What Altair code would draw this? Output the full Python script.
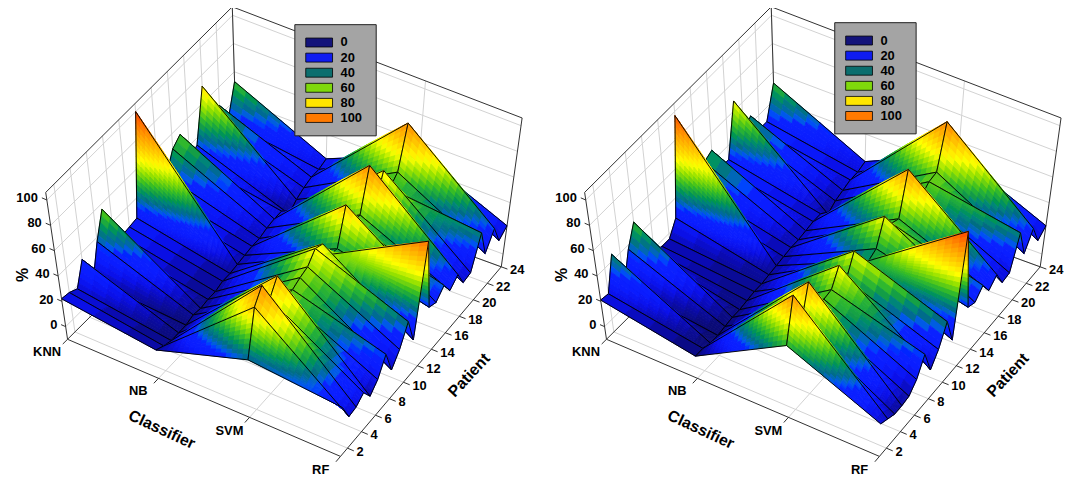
import math
import numpy as np
import pandas as pd
import altair as alt

alt.data_transformers.disable_max_rows()

# ---------------- data (values in %, patients 1..24) ----------------
CLASSIFIERS = ["KNN", "NB", "SVM", "RF"]
PATIENT_TICKS = [2, 4, 6, 8, 10, 12, 14, 16, 18, 20, 22, 24]
Z_TICKS = [0, 20, 40, 60, 80, 100]
LEGEND_LABELS = ["0", "20", "40", "60", "80", "100"]
LEGEND_COLORS = ["#13137a", "#0f1cf0", "#0b6e6e", "#7fd90b", "#ffe600", "#ff7a00"]

# left panel
L_KNN = [22, 21, 18, 35, 13, 37, 56, 24, 24, 25, 26, 100, 30, 30, 35, 49, 54, 30, 35, 72, 40, 47, 30, 53]
L_NB = [13, 10, 8, 8, 8, 10, 9, 10, 10, 12, 12, 13, 14, 15, 15, 17, 18, 18, 10, 15, 18, 20, 20, 22]
L_SVM = [38, 75, 86, 68, 80, 55, 55, 58, 60, 68, 65, 50, 48, 76, 55, 55, 87, 50, 70, 50, 56, 87, 55, 50]
L_RF = [32, 17, 18, 23, 13, 20, 34, 14, 24, 40, 18, 92, 31, 28, 35, 24, 30, 17, 18, 43, 20, 33, 17, 22]

# right panel
R_KNN = [21, 20, 45, 15, 37, 52, 24, 18, 16, 16, 26, 97, 30, 30, 45, 48, 30, 30, 67, 40, 45, 30, 30, 52]
R_NB = [8, 8, 6, 6, 7, 8, 8, 9, 10, 10, 11, 12, 13, 14, 14, 15, 16, 16, 10, 14, 16, 18, 18, 20]
R_SVM = [50, 85, 55, 82, 50, 54, 55, 68, 50, 66, 52, 45, 48, 67, 55, 52, 84, 60, 50, 55, 56, 88, 55, 50]
R_RF = [18, 15, 12, 12, 13, 20, 34, 14, 24, 40, 18, 100, 31, 28, 35, 24, 30, 17, 18, 43, 20, 33, 17, 22]

# ---------------- view (projection of the 3-D box) ----------------
ZMIN, ZMAX = -10, 106
# box corners (page px) for (KNN,p1), (RF,p1), (RF,p24), (KNN,p24)
BOX_FLOOR = [(68, 340), (343, 458), (505, 267), (239, 170)]
BOX_TOP = [(46, 192), (348.5, 322), (526, 117), (234, 5)]
PANEL_DX = [0, 543]
LEGEND_ORIGIN = [(297, 23), (841, 21)]

CMAP_DOMAIN = [0, 8, 14, 20, 26, 33, 40, 46, 52, 58, 66, 76, 88, 100]
CMAP_RANGE = ["#0c0c5e", "#0a0a78", "#0a0aae", "#0a10ea", "#0a1cff", "#0a22ff", "#076c82", "#12984a",
              "#3cc01e", "#90e000", "#ffff00", "#ffc400", "#ff8400", "#ff3a00"]

FONT = "Liberation Sans"
STEP = 4.0  # shading resolution (in %) inside each grid cell


def _bil(vals, u, v):
    a, b, c, d = vals
    return f"((1-{u})*(1-{v})*{a}+{u}*(1-{v})*{b}+{u}*{v}*{c}+(1-{u})*{v}*{d})"


def proj_expr(cf, pf, zf, axis):
    u = f"(datum['{cf}']/3)"
    v = f"((datum['{pf}']-1)/23)"
    t = f"((datum['{zf}']-({ZMIN}))/{ZMAX - ZMIN})"
    i = 0 if axis == "x" else 1
    F = _bil([pt[i] for pt in BOX_FLOOR], u, v)
    T = _bil([pt[i] for pt in BOX_TOP], u, v)
    e = f"{F}+{t}*({T}-{F})"
    if axis == "x":
        e += "+datum['dx']"
    return e


def project(chart, cf, pf, zf, ox, oy):
    return chart.transform_calculate(**{ox: proj_expr(cf, pf, zf, "x"),
                                        oy: proj_expr(cf, pf, zf, "y")})


XS = alt.Scale(domain=[8, 1074], nice=False, zero=False)
YS = alt.Scale(domain=[8, 481], nice=False, zero=False, reverse=True)

# ---------------- surface polygons (painter's order, far to near) ----------------
panels = [(0, [L_KNN, L_NB, L_SVM, L_RF]), (1, [R_KNN, R_NB, R_SVM, R_RF])]
rows = []
gid = 0
for pi, grid in panels:
    dx = PANEL_DX[pi]
    Z = np.array(grid, dtype=float)
    quads = [(c, p) for c in range(3) for p in range(1, 24)]
    quads.sort(key=lambda q: 4.6 * q[0] - q[1])
    for c, p in quads:
        z00, z10, z01, z11 = Z[c, p - 1], Z[c + 1, p - 1], Z[c, p], Z[c + 1, p]

        def zf(a, b):
            return (1 - a) * (1 - b) * z00 + a * (1 - b) * z10 + a * b * z11 + (1 - a) * b * z01

        nc = min(26, max(1, math.ceil(max(abs(z10 - z00), abs(z11 - z01)) / STEP)))
        npp = min(26, max(1, math.ceil(max(abs(z01 - z00), abs(z11 - z10)) / STEP)))
        subs = [(i, j) for i in range(nc) for j in range(npp)]
        subs.sort(key=lambda s: 4.6 * s[0] / nc - s[1] / npp)
        for i, j in subs:
            a0, a1, b0, b1 = i / nc, (i + 1) / nc, j / npp, (j + 1) / npp
            val = round(zf((a0 + a1) / 2, (b0 + b1) / 2), 2)
            for k, (a, b) in enumerate([(a0, b0), (a1, b0), (a1, b1), (a0, b1)]):
                rows.append((gid, k, round(c + a, 4), round(p + b, 4), round(zf(a, b), 3), val, 0, dx))
            gid += 1
        for k, (a, b) in enumerate([(0, 0), (1, 0), (1, 1), (0, 1)]):
            rows.append((gid, k, c + a, p + b, zf(a, b), 0, 1, dx))
        gid += 1

surf_df = pd.DataFrame(rows, columns=["g", "k", "c", "p", "z", "val", "o", "dx"])

surface = project(alt.Chart(surf_df), "c", "p", "z", "sx", "sy").transform_calculate(
    sv="datum.o == 1 ? -100 : datum.val",
    fo="datum.o == 1 ? 0 : 1",
    sw="datum.o == 1 ? 0.95 : 0.9",
).mark_line(interpolate="linear-closed", strokeJoin="round").encode(
    x=alt.X("sx:Q", scale=XS, axis=None),
    y=alt.Y("sy:Q", scale=YS, axis=None),
    detail="g:N",
    order="k:Q",
    fill=alt.Fill("val:Q", scale=alt.Scale(domain=CMAP_DOMAIN, range=CMAP_RANGE, clamp=True), legend=None),
    stroke=alt.Stroke("sv:Q", scale=alt.Scale(domain=[-100, -11] + CMAP_DOMAIN,
                                              range=["#000000", "#000000"] + CMAP_RANGE, clamp=True),
                      legend=None),
    fillOpacity=alt.FillOpacity("fo:Q", scale=None),
    strokeWidth=alt.StrokeWidth("sw:Q", scale=None),
)

# ---------------- box, grid, ticks ----------------
back, front = [], []
for dx in PANEL_DX:
    for p in PATIENT_TICKS:
        back.append((0, p, ZMIN, 0, p, ZMAX, "grid", dx))
        back.append((0, p, ZMIN, 3, p, ZMIN, "grid", dx))
    for z in Z_TICKS:
        back.append((0, 1, z, 0, 24, z, "grid", dx))
        back.append((0, 24, z, 3, 24, z, "grid", dx))
    for c in (1, 2):
        back.append((c, 24, ZMIN, c, 24, ZMAX, "grid", dx))
        back.append((c, 1, ZMIN, c, 24, ZMIN, "grid", dx))
    back += [(0, 1, ZMAX, 0, 24, ZMAX, "edge", dx), (0, 24, ZMAX, 3, 24, ZMAX, "edge", dx),
             (3, 24, ZMIN, 3, 24, ZMAX, "edge", dx), (0, 24, ZMIN, 0, 24, ZMAX, "edge", dx),
             (0, 1, ZMIN, 0, 24, ZMIN, "edge", dx), (0, 24, ZMIN, 3, 24, ZMIN, "edge", dx)]
    front += [(0, 1, ZMIN, 0, 1, ZMAX, "edge", dx), (0, 1, ZMIN, 3, 1, ZMIN, "edge", dx),
              (3, 1, ZMIN, 3, 24, ZMIN, "edge", dx)]
    for c in range(4):
        front.append((c, 1, ZMIN, c, 0.35, ZMIN, "edge", dx))
    for p in PATIENT_TICKS:
        front.append((3, p, ZMIN, 3.07, p, ZMIN, "edge", dx))
    for z in Z_TICKS:
        front.append((0, 1, z, -0.05, 1, z, "edge", dx))

seg_cols = ["c1", "p1", "z1", "c2", "p2", "z2", "kind", "dx"]


def seg_layer(segs):
    ch = alt.Chart(pd.DataFrame(segs, columns=seg_cols))
    ch = project(ch, "c1", "p1", "z1", "sx", "sy")
    ch = project(ch, "c2", "p2", "z2", "sx2", "sy2")
    return ch.mark_rule(strokeWidth=1).encode(
        x=alt.X("sx:Q", scale=XS, axis=None),
        y=alt.Y("sy:Q", scale=YS, axis=None),
        x2="sx2:Q",
        y2="sy2:Q",
        color=alt.Color("kind:N", scale=alt.Scale(domain=["grid", "edge"], range=["#d2d2d2", "#303030"]),
                        legend=None),
    )


back_layer = seg_layer(back)
front_layer = seg_layer(front)

# ---------------- labels ----------------
zl, cl, pl, tl = [], [], [], []
for dx in PANEL_DX:
    for z in Z_TICKS:
        zl.append((-0.09, 1, z, str(z), dx))
    for i, name in enumerate(CLASSIFIERS):
        cl.append((i, -0.7, ZMIN, name, dx))
    for p in PATIENT_TICKS:
        pl.append((3.1, p, ZMIN, str(p), dx))
    tl += [(-0.4, 1, 28, "%", 270, dx), (1.4, -3.6, ZMIN, "Classifier", 25, dx),
           (3.5, 13, ZMIN, "Patient", 313, dx)]

lab_cols = ["c", "p", "z", "text", "dx"]


def text_layer(items, cols, **mk):
    ch = project(alt.Chart(pd.DataFrame(items, columns=cols)), "c", "p", "z", "sx", "sy")
    enc = dict(x=alt.X("sx:Q", scale=XS, axis=None), y=alt.Y("sy:Q", scale=YS, axis=None),
               text="text:N")
    if "angle" in cols:
        enc["angle"] = alt.Angle("angle:Q", scale=None)
    return ch.mark_text(font=FONT, fontWeight="bold", color="#000000", **mk).encode(**enc)


z_labels = text_layer(zl, lab_cols, align="right", baseline="middle", dy=2, fontSize=13)
c_labels = text_layer(cl, lab_cols, align="center", baseline="middle", dx=-8, fontSize=13)
p_labels = text_layer(pl, lab_cols, align="left", baseline="middle", fontSize=13)
titles = text_layer(tl, ["c", "p", "z", "text", "angle", "dx"], align="center", baseline="middle",
                    fontSize=16)

# ---------------- legends ----------------
box_df = pd.DataFrame([(ox, oy) for ox, oy in LEGEND_ORIGIN], columns=["ox", "oy"])
legend_box = alt.Chart(box_df).transform_calculate(
    x1="datum.ox", x2="datum.ox+82", y1="datum.oy", y2="datum.oy+112"
).mark_rect(fill="#a4a4a4", stroke="#202020", strokeWidth=1).encode(
    x=alt.X("x1:Q", scale=XS, axis=None), x2="x2:Q",
    y=alt.Y("y1:Q", scale=YS, axis=None), y2="y2:Q",
)
leg_rows = [(ox, oy, i, lab) for ox, oy in LEGEND_ORIGIN for i, lab in enumerate(LEGEND_LABELS)]
leg_df = pd.DataFrame(leg_rows, columns=["ox", "oy", "i", "label"])
leg_base = alt.Chart(leg_df).transform_calculate(
    yc="datum.oy+18+datum.i*15.2", x1="datum.ox+11", x2="datum.ox+38",
    y1="datum.oy+13.5+datum.i*15.2", y2="datum.oy+22.5+datum.i*15.2", xt="datum.ox+46"
)
legend_sw = leg_base.mark_rect(stroke="#000000", strokeWidth=0.8).encode(
    x=alt.X("x1:Q", scale=XS, axis=None), x2="x2:Q",
    y=alt.Y("y1:Q", scale=YS, axis=None), y2="y2:Q",
    fill=alt.Fill("label:N", scale=alt.Scale(domain=LEGEND_LABELS, range=LEGEND_COLORS), legend=None),
)
legend_tx = leg_base.mark_text(font=FONT, fontWeight="bold", fontSize=13, align="left",
                               baseline="middle", color="#000000").encode(
    x=alt.X("xt:Q", scale=XS, axis=None), y=alt.Y("yc:Q", scale=YS, axis=None), text="label:N"
)

chart = alt.layer(
    back_layer, surface, front_layer, z_labels, c_labels, p_labels, titles,
    legend_box, legend_sw, legend_tx
).resolve_scale(fill="independent", stroke="independent", color="independent").properties(
    width=1066, height=473, padding=0, autosize=alt.AutoSizeParams(type="none"),
    background="#ffffff"
).configure_view(strokeWidth=0)

chart.save("out.html", embed_options={"renderer": "svg", "actions": False})
